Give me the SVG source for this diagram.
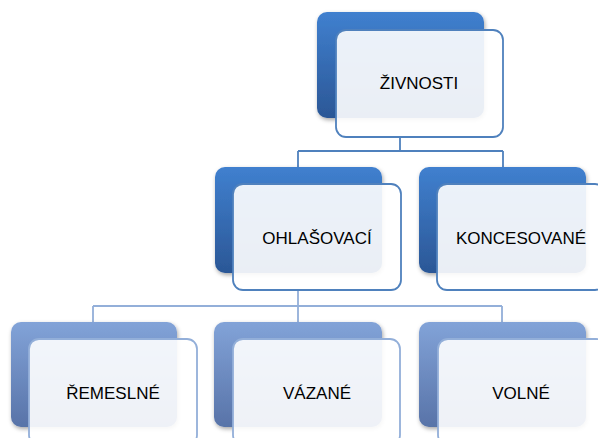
<svg xmlns="http://www.w3.org/2000/svg" width="598" height="438" viewBox="0 0 598 438">
<defs>
<linearGradient id="gDark" x1="0" y1="0" x2="0" y2="1">
<stop offset="0" stop-color="#4080cf"/>
<stop offset="1" stop-color="#2b5796"/>
</linearGradient>
<linearGradient id="gLight" x1="0" y1="0" x2="0" y2="1">
<stop offset="0" stop-color="#82a3d8"/>
<stop offset="1" stop-color="#5873a8"/>
</linearGradient>
<filter id="sh" x="-10%" y="-10%" width="125%" height="125%">
<feDropShadow dx="1" dy="2" stdDeviation="2.2" flood-color="#000" flood-opacity="0.35"/>
</filter>
</defs>
<style>
.back{filter:url(#sh)}
.bd{fill:url(#gDark)}
.bl{fill:url(#gLight)}
.front{fill:#ffffff;fill-opacity:0.9;stroke-width:1.8}
.fd{stroke:#4f81bd}
.fl{stroke:#93afd9}
.lbl{font-family:"Liberation Sans",Arial,sans-serif;font-size:17px;fill:#000;text-anchor:middle}
.cd{fill:none;stroke:#4f81bd;stroke-width:1.8}
.cl{fill:none;stroke:#93afd9;stroke-width:1.8}
</style>
<g id="connectors">
<path class="cd" d="M400,137 V151 M298,151 H503 M298,151 V167 M503,151 V167"/>
<path class="cl" d="M298,290 V306 M93,306 H502 M93,306 V322 M298,306 V322 M502,306 V322"/>
</g>
<g id="zivnosti">
<rect class="back bd" x="317" y="12" width="167" height="106" rx="10"/>
<rect class="front fd" x="336" y="30" width="167" height="107" rx="10"/>
<text class="lbl" x="419" y="89">ŽIVNOSTI</text>
</g>
<g id="ohlasovaci">
<rect class="back bd" x="215" y="167" width="167" height="106" rx="10"/>
<rect class="front fd" x="233" y="184" width="168" height="106" rx="10"/>
<text class="lbl" x="317" y="244">OHLAŠOVACÍ</text>
</g>
<g id="koncesovane">
<rect class="back bd" x="419" y="167" width="167" height="106" rx="10"/>
<rect class="front fd" x="437" y="184" width="168" height="106" rx="10"/>
<text class="lbl" x="521" y="244">KONCESOVANÉ</text>
</g>
<g id="remeslne">
<rect class="back bl" x="11" y="322" width="166" height="105" rx="10"/>
<rect class="front fl" x="29" y="339" width="168" height="106" rx="10"/>
<text class="lbl" x="113" y="399">ŘEMESLNÉ</text>
</g>
<g id="vazane">
<rect class="back bl" x="214" y="322" width="168" height="105" rx="10"/>
<rect class="front fl" x="233" y="339" width="167" height="106" rx="10"/>
<text class="lbl" x="317" y="399">VÁZANÉ</text>
</g>
<g id="volne">
<rect class="back bl" x="419" y="322" width="167" height="105" rx="10"/>
<rect class="front fl" x="438" y="339" width="168" height="106" rx="10"/>
<text class="lbl" x="521" y="399">VOLNÉ</text>
</g>
</svg>
